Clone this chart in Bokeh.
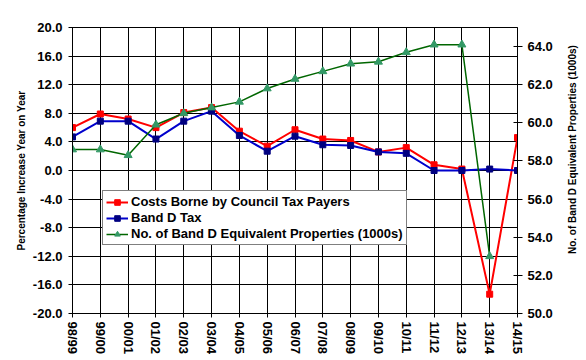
import math
from bokeh.plotting import figure
from bokeh.layouts import row
from bokeh.core.properties import value
from bokeh.models import (Range1d, LinearAxis, FixedTicker, NumeralTickFormatter,
                          Legend, LegendItem)
from bokeh.embed import file_html
from bokeh.resources import INLINE

years = ["98/99", "99/00", "00/01", "01/02", "02/03", "03/04", "04/05", "05/06",
         "06/07", "07/08", "08/09", "09/10", "10/11", "11/12", "12/13", "13/14", "14/15"]
costs = [6.0, 7.9, 7.2, 6.0, 8.1, 8.8, 5.5, 3.4, 5.7, 4.4, 4.2, 2.6, 3.2, 0.8, 0.2, -17.3, 4.6]
band_d = [4.7, 6.9, 6.9, 4.4, 6.9, 8.3, 4.9, 2.7, 4.8, 3.6, 3.5, 2.6, 2.4, 0.0, 0.0, 0.2, 0.0]
props = [58.6, 58.6, 58.3, 59.9, 60.5, 60.8, 61.1, 61.8, 62.3, 62.7, 63.1, 63.2, 63.7, 64.1, 64.1, 53.0]
left_ticks = [-20, -16, -12, -8, -4, 0, 4, 8, 12, 16, 20]
right_ticks = [50, 52, 54, 56, 58, 60, 62, 64]
left_title = "Percentage Increase Year on Year"
right_title = "No. of Band D Equivalent Properties (1000s)"

x = list(range(len(years)))
FONT = "Liberation Sans"
TOP, BOTTOM, FH = 27, 38, 286

p = figure(frame_width=445, frame_height=FH, output_backend="svg", toolbar_location=None,
           x_range=Range1d(0, len(years) - 1), y_range=Range1d(-20, 20),
           min_border_left=72, min_border_right=48, min_border_top=TOP, min_border_bottom=BOTTOM)
p.extra_y_ranges = {"props": Range1d(50, 65)}
p.outline_line_color = "black"
p.outline_line_width = 1
p.background_fill_color = "white"
p.border_fill_color = "white"

# grids
p.xgrid.ticker = FixedTicker(ticks=x)
p.ygrid.ticker = FixedTicker(ticks=left_ticks)
p.xgrid.grid_line_color = "black"
p.ygrid.grid_line_color = "black"
p.xgrid.grid_line_width = 1
p.ygrid.grid_line_width = 1

# x axis
xa = p.xaxis[0]
xa.ticker = FixedTicker(ticks=x)
xa.major_label_overrides = {i: y for i, y in enumerate(years)}
xa.major_label_orientation = -math.pi / 2
xa.major_tick_in = 0
xa.major_tick_out = 4
xa.minor_tick_line_color = None
xa.major_label_standoff = 4
xa.major_label_text_font = FONT
xa.major_label_text_font_style = "bold"
xa.major_label_text_font_size = "13px"
xa.major_label_text_color = "black"
xa.axis_line_color = "black"

# left axis
ya = p.yaxis[0]
ya.ticker = FixedTicker(ticks=left_ticks)
ya.formatter = NumeralTickFormatter(format="0.0")
ya.axis_label = left_title
ya.major_tick_in = 4
ya.major_tick_out = 4
ya.minor_tick_line_color = None
ya.major_label_standoff = 6
ya.axis_label_standoff = 3

# right axis
ra = LinearAxis(y_range_name="props", ticker=FixedTicker(ticks=right_ticks),
                formatter=NumeralTickFormatter(format="0.0"))
ra.major_tick_in = 4
ra.major_tick_out = 5
ra.minor_tick_line_color = None
ra.major_label_standoff = 5
p.add_layout(ra, "right")

for ax in (ya, ra):
    ax.major_label_text_font = FONT
    ax.major_label_text_font_style = "bold"
    ax.major_label_text_font_size = "13px"
    ax.major_label_text_color = "black"
    ax.axis_label_text_font = FONT
    ax.axis_label_text_font_style = "bold"
    ax.axis_label_text_font_size = "10px"
    ax.axis_label_text_color = "black"
    ax.axis_line_color = "black"
    ax.major_tick_line_color = "black"

# series
r1l = p.line(x, costs, line_color="#FF0000", line_width=2)
r1m = p.scatter(x, costs, marker="square", size=6, fill_color="#FF0000", line_color="#FF0000")
r2l = p.line(x, band_d, line_color="#0000CC", line_width=2)
r2m = p.scatter(x, band_d, marker="square", size=6, fill_color="#000080", line_color="#000080")
xp = x[:len(props)]
r3l = p.line(xp, props, line_color="#006600", line_width=1.5, y_range_name="props")
r3m = p.scatter(xp, props, marker="triangle", size=8, fill_color="#339966", line_color="#339966",
                y_range_name="props")

legend = Legend(items=[
    LegendItem(label="Costs Borne by Council Tax Payers", renderers=[r1l, r1m]),
    LegendItem(label="Band D Tax", renderers=[r2l, r2m]),
    LegendItem(label="No. of Band D Equivalent Properties (1000s)", renderers=[r3l, r3m]),
], location=(30, 68))
legend.label_text_font = FONT
legend.label_text_font_style = "bold"
legend.label_text_font_size = "13px"
legend.label_text_color = "black"
legend.label_height = 14
legend.glyph_height = 14
legend.glyph_width = 22
legend.label_standoff = 3
legend.spacing = 1
legend.padding = 3
legend.margin = 0
legend.border_line_color = "black"
legend.border_line_width = 1
legend.background_fill_alpha = 1
p.add_layout(legend, "center")

# narrow side strip carrying the right-hand axis title, reading bottom-to-top
p2 = figure(frame_width=16, frame_height=FH, output_backend="svg", toolbar_location=None,
            x_range=Range1d(0, 1), y_range=Range1d(0, 1),
            x_axis_location=None, y_axis_location=None,
            min_border_left=0, min_border_right=0, min_border_top=TOP, min_border_bottom=BOTTOM)
p2.outline_line_color = None
p2.grid.visible = False
p2.background_fill_color = "white"
p2.border_fill_color = "white"
p2.text(x=[0.45], y=[0.573], text=[right_title], angle=math.pi / 2,
        text_align="center", text_baseline="middle", text_font=value(FONT),
        text_font_style="bold", text_font_size="10px", text_color="black")

layout = row(p, p2)
open("out.html", "w").write(file_html(layout, INLINE))
